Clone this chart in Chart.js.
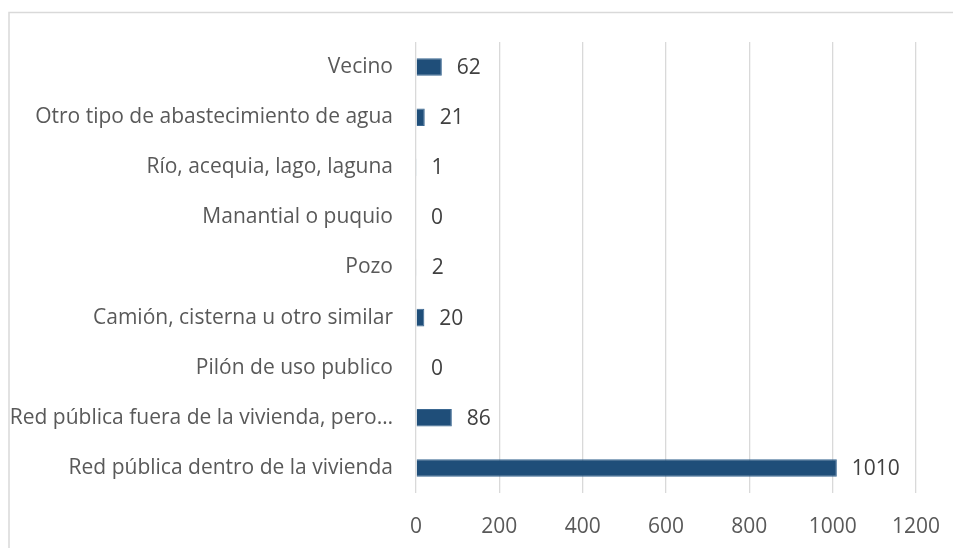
<!DOCTYPE html>
<html lang="es">
<head>
  <meta charset="UTF-8" />
  <title>Abastecimiento de agua</title>
  <script src="https://cdn.jsdelivr.net/npm/chart.js"></script>
  <style>
    body {
      margin: 0;
      background: #ffffff;
      overflow: hidden;
    }
    .chart-box {
      position: relative;
      width: 953px;
      height: 548px;
    }
  </style>
</head>
<body>
  <div class="chart-box">
    <canvas id="barChart"></canvas>
  </div>

  <script>
    // categories top to bottom
    const categories = [
      "Vecino",
      "Otro tipo de abastecimiento de agua",
      "Río, acequia, lago, laguna",
      "Manantial o puquio",
      "Pozo",
      "Camión, cisterna u otro similar",
      "Pilón de uso publico",
      "Red pública fuera de la vivienda, pero…",
      "Red pública dentro de la vivienda"
    ];
    const households = [62, 21, 1, 0, 2, 20, 0, 86, 1010];
    const xTicks = [0, 200, 400, 600, 800, 1000, 1200];

    Chart.defaults.font.family = "'Open Sans', sans-serif";
    Chart.defaults.font.size = 21;
    Chart.defaults.color = "#595959";

    // light grey frame of the chart area (runs off the right/bottom edge)
    const frame = {
      id: "frame",
      beforeDraw(chart) {
        const ctx = chart.ctx;
        ctx.save();
        ctx.strokeStyle = "#d9d9d9";
        ctx.lineWidth = 1.5;
        ctx.strokeRect(9, 12.5, chart.width + 20, chart.height + 20);
        ctx.restore();
      }
    };

    // value labels just right of each bar
    const valueLabels = {
      id: "valueLabels",
      afterDatasetsDraw(chart) {
        const ctx = chart.ctx;
        const meta = chart.getDatasetMeta(0);
        ctx.save();
        ctx.font = "21px 'Open Sans', sans-serif";
        ctx.fillStyle = "#404040";
        ctx.textAlign = "left";
        ctx.textBaseline = "middle";
        meta.data.forEach((bar, i) => {
          ctx.fillText(String(households[i]), bar.x + 15, bar.y + 1);
        });
        ctx.restore();
      }
    };

    new Chart(document.getElementById("barChart"), {
      type: "bar",
      data: {
        labels: categories,
        datasets: [{
          data: households,
          backgroundColor: "#1f4e79",
          borderColor: "#3a6791",
          borderWidth: 1,
          barPercentage: 0.35,
          categoryPercentage: 1
        }]
      },
      options: {
        indexAxis: "y",
        responsive: true,
        maintainAspectRatio: false,
        animation: false,
        layout: {
          padding: { top: 42, right: 37, bottom: 0, left: 0 }
        },
        plugins: {
          legend: { display: false },
          tooltip: { enabled: false }
        },
        scales: {
          x: {
            min: 0,
            max: 1200,
            afterBuildTicks: scale => {
              scale.ticks = xTicks.map(v => ({ value: v }));
            },
            afterFit: scale => {
              scale.height = 55;
              scale.paddingLeft = 0;
              scale.paddingRight = 0;
            },
            grid: { color: "#d9d9d9", lineWidth: 1.3, drawTicks: false },
            border: { display: false },
            ticks: { padding: 21, maxRotation: 0, callback: v => String(v) }
          },
          y: {
            afterFit: scale => { scale.width = 416; },
            grid: { display: false, drawTicks: false },
            border: { display: false },
            ticks: { padding: 23, autoSkip: false }
          }
        }
      },
      plugins: [frame, valueLabels]
    });
  </script>
</body>
</html>
